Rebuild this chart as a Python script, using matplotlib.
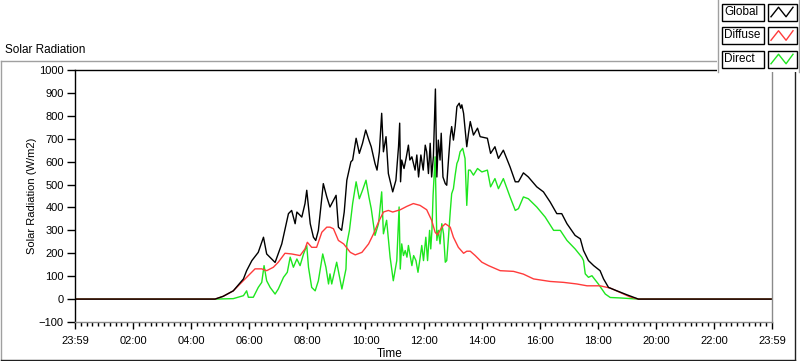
import numpy as np
import matplotlib
matplotlib.use("Agg")
import matplotlib.pyplot as plt
from matplotlib.patches import Rectangle
from matplotlib.lines import Line2D
from matplotlib.ticker import MultipleLocator

plt.rcParams['font.family'] = ['Liberation Sans', 'DejaVu Sans']

# --- data (hours since 23:59, W/m2) ---
global_t = [0, 4.82, 5.1, 5.45, 5.8, 5.91, 6.09, 6.31, 6.49, 6.60, 6.89, 7.12, 7.35, 7.46, 7.58,
            7.64, 7.81, 7.92, 7.98, 8.10, 8.21, 8.29, 8.38, 8.55, 8.67, 8.78, 8.99, 9.07, 9.18,
            9.27, 9.36, 9.50, 9.56, 9.68, 9.79, 9.90, 10.01, 10.12, 10.20, 10.33, 10.40, 10.48,
            10.56, 10.62, 10.71, 10.79, 10.94, 11.05, 11.14, 11.18, 11.21, 11.25, 11.33, 11.40,
            11.48, 11.53, 11.60, 11.71, 11.77, 11.83, 11.91, 11.99, 12.06, 12.11, 12.17, 12.23,
            12.28, 12.34, 12.41, 12.46, 12.51, 12.57, 12.61, 12.67, 12.75, 12.80, 12.86, 12.92,
            12.97, 13.03, 13.09, 13.15, 13.23, 13.28, 13.32, 13.38, 13.49, 13.55, 13.61, 13.72,
            13.86, 13.95, 14.20, 14.31, 14.46, 14.58, 14.75, 14.98, 15.16, 15.27, 15.44, 15.61,
            15.90, 16.13, 16.36, 16.59, 16.76, 16.94, 17.22, 17.40, 17.51, 17.68, 17.86, 18.08,
            18.20, 18.37, 18.66, 19.0, 19.4, 24]
global_v = [0, 0, 12, 36, 88, 124, 168, 204, 270, 197, 160, 241, 373, 387, 329,
            380, 358, 417, 475, 329, 270, 256, 300, 504, 446, 402, 453, 314, 300,
            380, 519, 599, 607, 702, 636, 680, 738, 694, 665, 592, 563, 643,
            811, 643, 709, 548, 468, 519, 665, 768, 512, 607, 570, 614,
            672, 607, 621, 563, 629, 533, 629, 563, 672, 643, 548, 680,
            533, 621, 917, 533, 694, 607, 724, 533, 504, 497, 607, 709,
            753, 694, 753, 840, 855, 833, 848, 811, 665, 724, 775, 716,
            746, 709, 702, 636, 665, 614, 650, 577, 512, 512, 551, 533,
            490, 468, 424, 373, 373, 329, 278, 263, 212, 168, 146, 124,
            88, 51, 36, 19, 0, 0]

diffuse_t = [0, 4.82, 5.1, 5.45, 5.91, 6.20, 6.43, 6.60, 6.83, 7.00, 7.23, 7.46, 7.75, 7.92,
             8.00, 8.15, 8.32, 8.50, 8.67, 8.78, 8.90, 9.07, 9.25, 9.48, 9.65, 9.88, 10.11,
             10.28, 10.45, 10.62, 10.79, 10.94, 11.20, 11.43, 11.65, 11.88, 12.11, 12.28, 12.40,
             12.48, 12.63, 12.75, 12.92, 13.03, 13.20, 13.38, 13.49, 13.61, 13.78, 14.01, 14.24,
             14.64, 15.10, 15.44, 15.79, 16.36, 16.82, 17.28, 17.63, 18.08, 18.43, 18.77, 19.1,
             19.4, 24]
diffuse_v = [0, 0, 12, 36, 95, 132, 132, 124, 139, 161, 200, 197, 190, 219,
             248, 226, 226, 292, 314, 314, 307, 256, 241, 204, 193, 204, 241,
             285, 336, 380, 387, 380, 390, 405, 417, 409, 390, 344, 292,
             280, 314, 329, 314, 270, 226, 200, 209, 209, 190, 161, 146,
             124, 121, 109, 88, 77, 73, 66, 58, 58, 48, 29, 10,
             0, 0]

direct_t = [0, 4.82, 5.45, 5.80, 5.91, 5.97, 6.14, 6.31, 6.43, 6.51, 6.60, 6.72, 6.89, 7.00,
            7.18, 7.31, 7.41, 7.52, 7.64, 7.75, 7.87, 7.98, 8.04, 8.15, 8.27, 8.38, 8.53, 8.64,
            8.73, 8.78, 8.84, 9.01, 9.19, 9.33, 9.36, 9.45, 9.56, 9.68, 9.79, 9.90, 10.02, 10.12,
            10.20, 10.33, 10.45, 10.56, 10.62, 10.73, 10.85, 10.96, 11.08, 11.16, 11.20, 11.25,
            11.31, 11.37, 11.43, 11.48, 11.54, 11.60, 11.66, 11.74, 11.81, 11.87, 11.94, 12.00,
            12.08, 12.14, 12.21, 12.25, 12.29, 12.33, 12.40, 12.46, 12.51, 12.57, 12.63, 12.69,
            12.75, 12.80, 12.86, 12.92, 12.97, 13.03, 13.09, 13.15, 13.20, 13.26, 13.35, 13.43,
            13.49, 13.55, 13.61, 13.72, 13.86, 14.01, 14.20, 14.31, 14.46, 14.58, 14.75, 14.98,
            15.16, 15.27, 15.44, 15.61, 15.90, 16.19, 16.48, 16.71, 16.94, 17.22, 17.45, 17.51,
            17.57, 17.68, 17.80, 18.02, 18.26, 18.43, 18.77, 19.4, 24]
direct_v = [0, 0, 2, 15, 36, 8, 8, 51, 73, 146, 80, 51, 22, 44,
            95, 117, 183, 139, 175, 146, 197, 234, 139, 51, 36, 80, 197, 139,
            66, 110, 66, 161, 44, 131, 241, 300, 417, 512, 438, 475, 519, 446,
            395, 278, 329, 468, 285, 344, 183, 80, 168, 402, 131, 241,
            190, 212, 183, 234, 190, 146, 190, 168, 117, 168, 234, 168,
            270, 168, 300, 219, 300, 453, 621, 256, 300, 241, 329, 285,
            161, 168, 270, 380, 460, 482, 541, 592, 607, 643, 658, 614,
            409, 563, 563, 541, 570, 555, 563, 490, 526, 482, 526, 446,
            387, 395, 446, 438, 402, 358, 300, 300, 256, 219, 183, 168,
            110, 95, 102, 66, 22, 7, 5, 0, 0]

series_names = ["Global", "Diffuse", "Direct"]
series_colors = ["#000000", "#ff3b3b", "#1ee61e"]

tick_pos = list(range(0, 25, 2))
tick_labels = ["23:59", "02:00", "04:00", "06:00", "08:00", "10:00", "12:00",
               "14:00", "16:00", "18:00", "20:00", "22:00", "23:59"]

W, H = 800, 361
fx = lambda x: x / W
fy = lambda y: 1 - y / H

fig = plt.figure(figsize=(8, 3.61), dpi=100)
fig.patch.set_facecolor("white")

# outer panel frame
fig.add_artist(Line2D([fx(1), fx(794)], [fy(61), fy(61)], color="#a0a0a0", lw=1, transform=fig.transFigure))
fig.add_artist(Line2D([fx(1), fx(1)], [fy(61), fy(360)], color="#a0a0a0", lw=1, transform=fig.transFigure))
fig.add_artist(Line2D([fx(1), fx(795)], [fy(360), fy(360)], color="#202020", lw=1, transform=fig.transFigure))
fig.add_artist(Line2D([fx(795), fx(795)], [fy(61), fy(360)], color="#202020", lw=1, transform=fig.transFigure))

ax = fig.add_axes([fx(75), fy(322), fx(772) - fx(75), fy(70) - fy(322)])
ax.plot(direct_t, direct_v, color=series_colors[2], lw=1)
ax.plot(diffuse_t, diffuse_v, color=series_colors[1], lw=1)
ax.plot(global_t, global_v, color=series_colors[0], lw=1)

ax.set_xlim(0, 24)
ax.set_ylim(-100, 1000)
ax.yaxis.set_major_locator(MultipleLocator(100))
ax.set_xticks(tick_pos)
ax.set_xticklabels(tick_labels)
ax.xaxis.set_minor_locator(MultipleLocator(0.2))
ax.tick_params(axis="both", labelsize=8, colors="black", width=1)
ax.tick_params(axis="x", which="major", length=5, pad=5)
ax.tick_params(axis="x", which="minor", length=3, width=1)
ax.tick_params(axis="y", length=6, pad=2)
ax.spines["left"].set_color("black")
ax.spines["top"].set_color("black")
ax.spines["right"].set_color("#8a8a8a")
ax.spines["bottom"].set_color("#8a8a8a")
for s in ax.spines.values():
    s.set_linewidth(1)

fig.text(fx(32), fy(196), "Solar Radiation (W/m2)", rotation=90, ha="center", va="center", fontsize=8)
fig.text(fx(390), fy(354), "Time", ha="center", va="center", fontsize=8.5)
fig.text(fx(5), fy(50), "Solar Radiation", ha="left", va="center", fontsize=8.5)

# legend panel (LabVIEW style plot legend)
fig.add_artist(Rectangle((fx(717), fy(72)), fx(800) - fx(717), fy(0) - fy(72), facecolor="white",
                         edgecolor="none", transform=fig.transFigure, zorder=5))
fig.add_artist(Line2D([fx(717.5), fx(717.5)], [fy(0), fy(72)], color="#a0a0a0", lw=1,
                      transform=fig.transFigure, zorder=6))
fig.add_artist(Line2D([fx(799), fx(799)], [fy(0), fy(72)], color="#a0a0a0", lw=1,
                      transform=fig.transFigure, zorder=6))
row_tops = [3.5, 27, 50.5]
zig_x = np.array([0.12, 0.38, 0.64, 0.88])
zig_y = np.array([0.78, 0.22, 0.78, 0.22])
for name, col, top in zip(series_names, series_colors, row_tops):
    hgt = 17
    fig.add_artist(Rectangle((fx(721.5), fy(top + hgt)), fx(763.5) - fx(721.5), hgt / H,
                             facecolor="white", edgecolor="black", lw=1, transform=fig.transFigure, zorder=7))
    fig.text(fx(724), fy(top + hgt / 2), name, ha="left", va="center", fontsize=8.5, zorder=8)
    fig.add_artist(Rectangle((fx(767.5), fy(top + hgt)), fx(796.5) - fx(767.5), hgt / H,
                             facecolor="white", edgecolor="black", lw=1, transform=fig.transFigure, zorder=7))
    zx = fx(767.5) + zig_x * (fx(796.5) - fx(767.5))
    zy = fy(top + hgt) + (1 - zig_y) * hgt / H
    fig.add_artist(Line2D(zx, zy, color=col, lw=1, transform=fig.transFigure, zorder=8))

fig.savefig("out.png", dpi=100)
